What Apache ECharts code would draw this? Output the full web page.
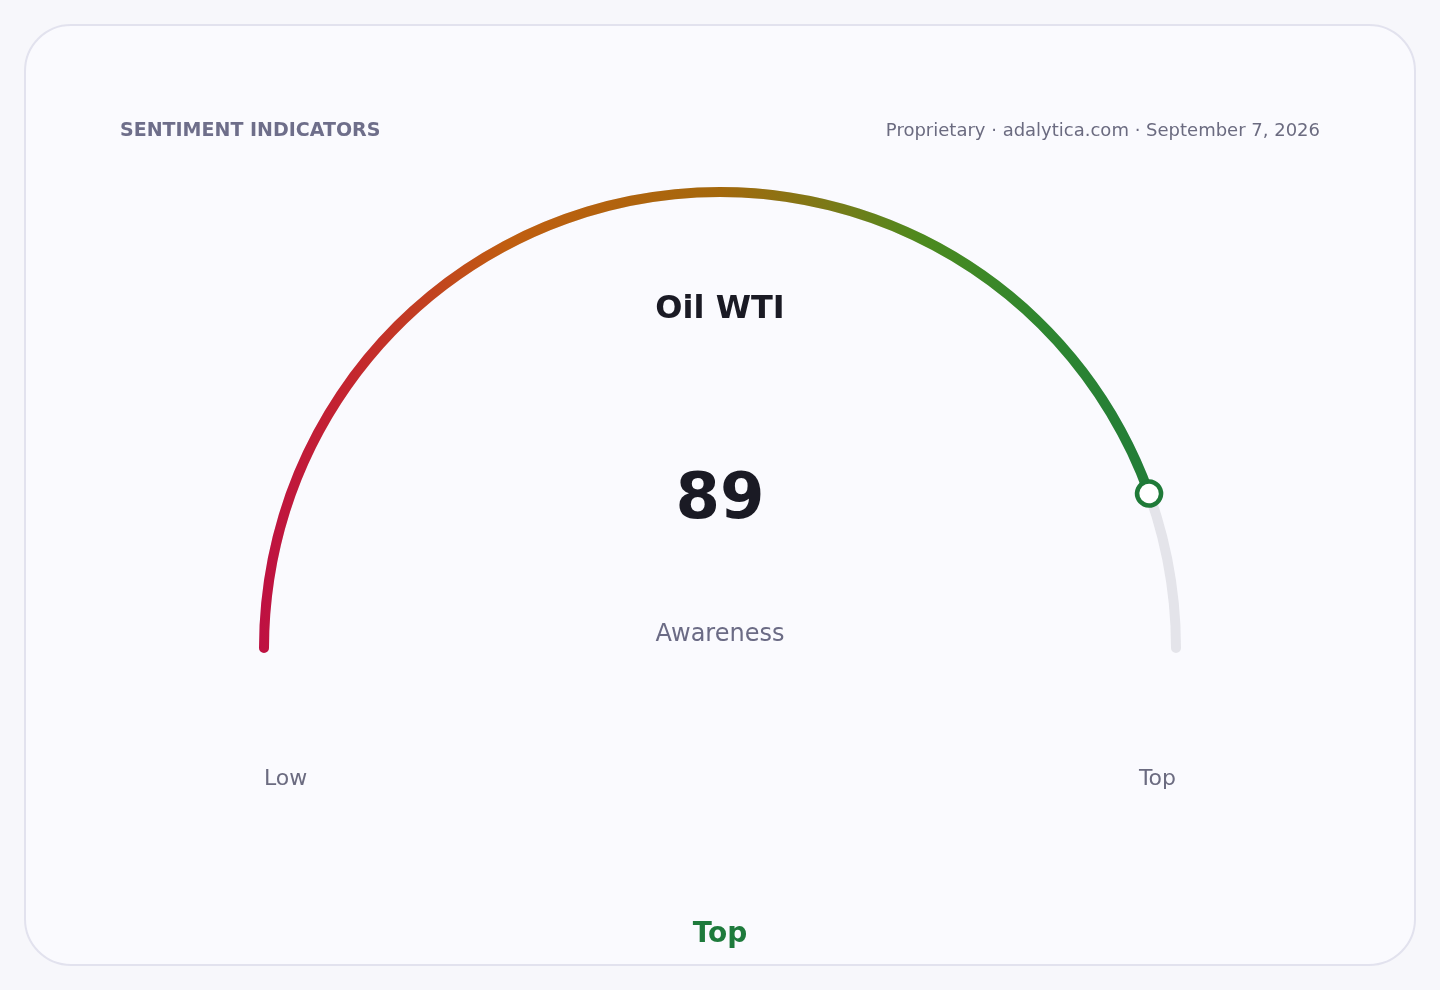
<!DOCTYPE html>
<html>
<head>
<meta charset="utf-8">
<script src="https://cdn.jsdelivr.net/npm/echarts@6/dist/echarts.min.js"></script>
<style>
  html, body { margin: 0; padding: 0; background: #f7f7fb; }
  #chart { width: 1440px; height: 990px; }
</style>
</head>
<body>
<div id="chart"></div>
<script>
// ---- data ----
const headerTitle = 'SENTIMENT INDICATORS';
const headerSource = 'Proprietary · adalytica.com · September 7, 2026';
const gaugeNames = ['Oil WTI'];
const gaugeValues = [89];
const gaugeRange = [0, 100];
const metricLabels = ['Awareness'];
const scaleLabels = ['Low', 'Top'];
const verdictLabels = ['Top'];

const FONT = 'DejaVu Sans, Noto Sans, sans-serif';
const chart = echarts.init(document.getElementById('chart'));

const arcGradient = {
  type: 'linear', x: 258, y: 0, x2: 1182, y2: 0, global: true,
  colorStops: [
    { offset: 0.00, color: '#be1042' },
    { offset: 0.10, color: '#c4262f' },
    { offset: 0.27, color: '#c05e10' },
    { offset: 0.50, color: '#a4680c' },
    { offset: 0.62, color: '#7a7a18' },
    { offset: 0.72, color: '#4c8a1e' },
    { offset: 0.85, color: '#2e8630' },
    { offset: 1.00, color: '#1f7a3a' }
  ]
};

const common = {
  type: 'gauge',
  center: [720, 648],
  radius: 461,
  startAngle: 180,
  endAngle: 0,
  min: gaugeRange[0],
  max: gaugeRange[1],
  splitLine: { show: false },
  axisTick: { show: false },
  axisLabel: { show: false },
  anchor: { show: false }
};

chart.setOption({
  backgroundColor: '#f7f7fb',
  animation: false,
  graphic: [
    { type: 'rect', z: 0, shape: { x: 25, y: 25, width: 1390, height: 940, r: 46 },
      style: { fill: '#fafafe', stroke: '#e2e2ee', lineWidth: 2 } },
    { type: 'text', z: 1, x: 120, y: 131,
      style: { text: headerTitle, font: 'bold 19px ' + FONT, fill: '#6e6e8a', textAlign: 'left', textVerticalAlign: 'middle' } },
    { type: 'text', z: 1, x: 1320, y: 131,
      style: { text: headerSource, font: '18px ' + FONT, fill: '#6b6b80', textAlign: 'right', textVerticalAlign: 'middle' } },
    { type: 'text', z: 1, x: 720, y: 635,
      style: { text: metricLabels[0], font: '24px ' + FONT, fill: '#6b6b85', textAlign: 'center', textVerticalAlign: 'middle' } },
    { type: 'text', z: 1, x: 264, y: 779,
      style: { text: scaleLabels[0], font: '22px ' + FONT, fill: '#6b6b80', textAlign: 'left', textVerticalAlign: 'middle' } },
    { type: 'text', z: 1, x: 1176, y: 779,
      style: { text: scaleLabels[1], font: '22px ' + FONT, fill: '#6b6b80', textAlign: 'right', textVerticalAlign: 'middle' } },
    { type: 'text', z: 1, x: 720, y: 935,
      style: { text: verdictLabels[0], font: 'bold 28px ' + FONT, fill: '#1e7a3c', textAlign: 'center', textVerticalAlign: 'middle' } }
  ],
  series: [
    Object.assign({}, common, {
      z: 5,
      axisLine: { roundCap: true, lineStyle: { width: 10, color: [[1, '#e4e4ea']] } },
      progress: { show: true, width: 10, roundCap: true, itemStyle: { color: arcGradient, borderWidth: 0 } },
      pointer: { show: false },
      title: { show: true, offsetCenter: [0, -338], fontSize: 32, fontWeight: 'bold', color: '#1a1a24', fontFamily: FONT },
      detail: { show: true, offsetCenter: [0, -147], fontSize: 64, fontWeight: 'bold', color: '#1a1a24', fontFamily: FONT, formatter: '{value}' },
      data: gaugeNames.map((n, i) => ({ name: n, value: gaugeValues[i] }))
    }),
    Object.assign({}, common, {
      z: 10,
      axisLine: { show: false },
      progress: { show: false },
      pointer: { show: true, icon: 'circle', width: 24, length: 24, offsetCenter: [0, -444], showAbove: true },
      itemStyle: { color: '#ffffff', borderColor: '#1f7a38', borderWidth: 4.5 },
      title: { show: false },
      detail: { show: false },
      data: gaugeValues.map(v => ({ value: v }))
    })
  ]
});
</script>
</body>
</html>
